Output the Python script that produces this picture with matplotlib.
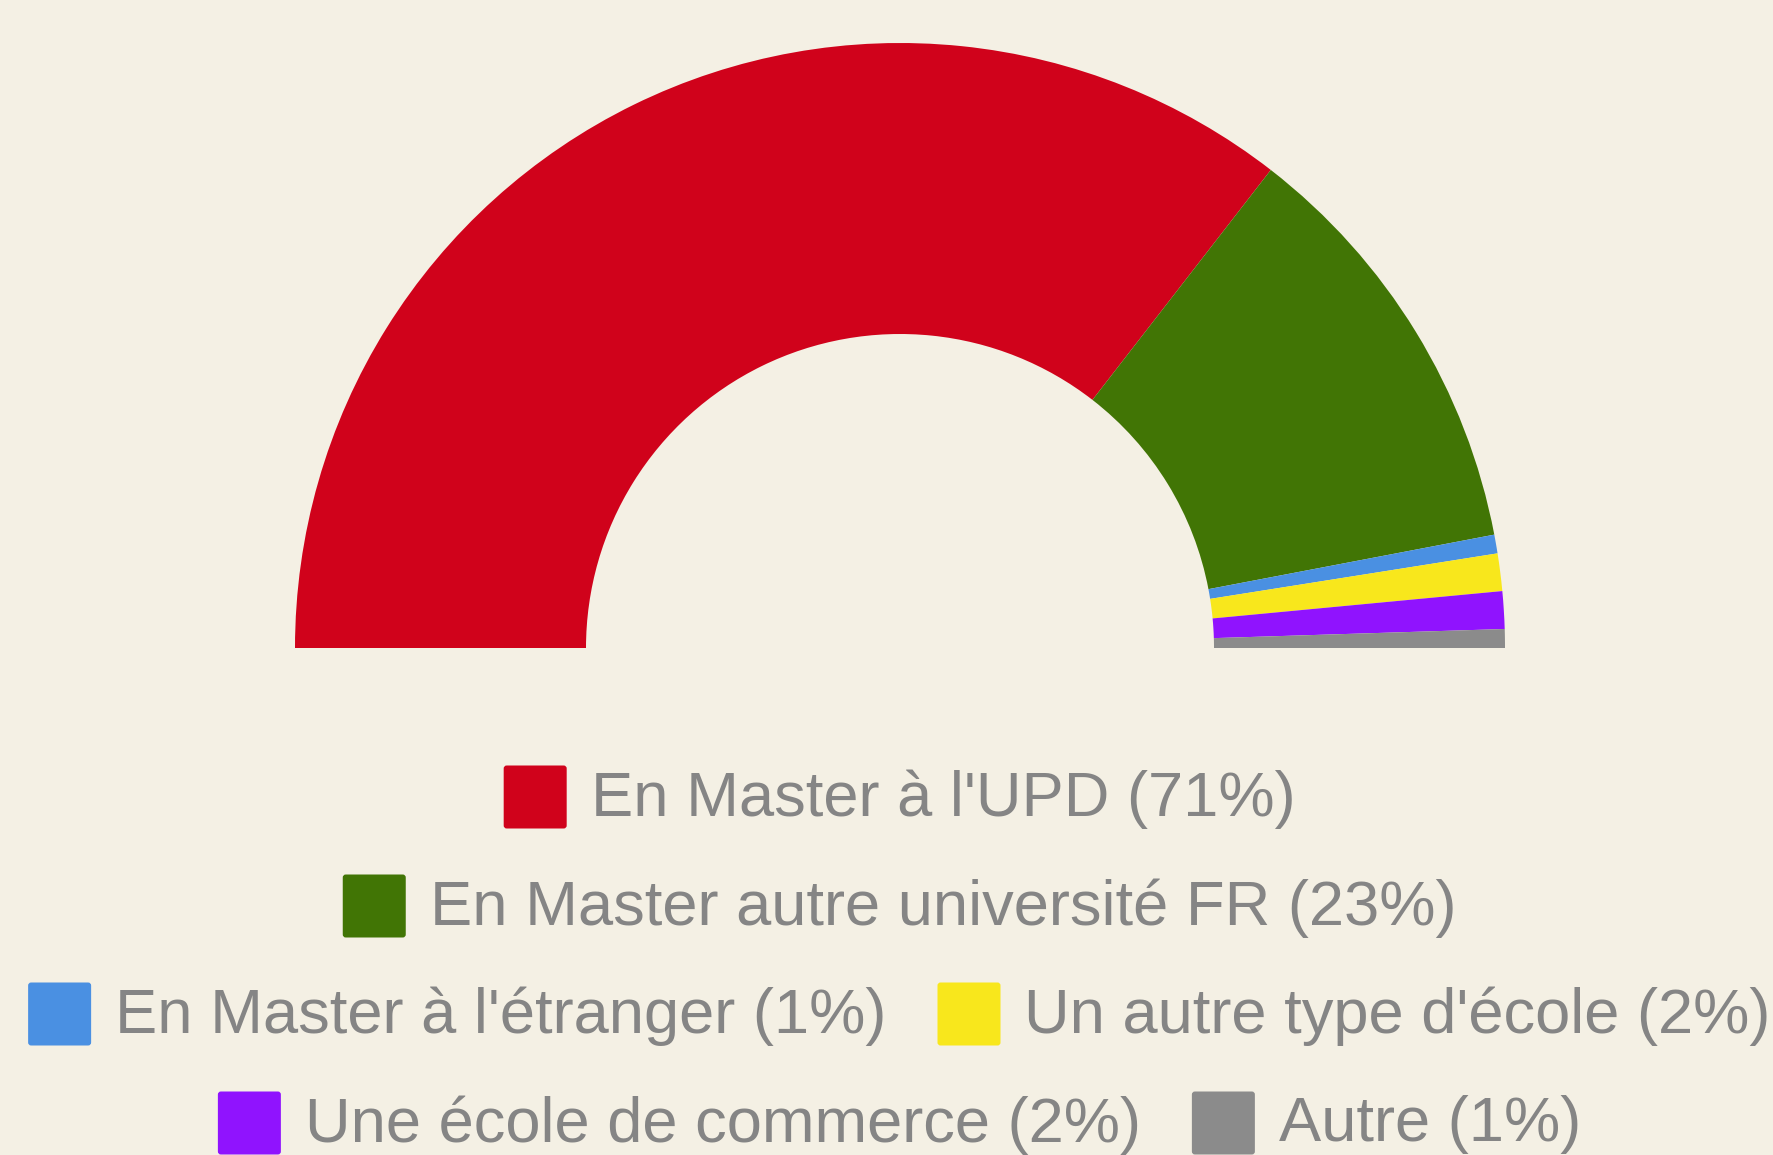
import matplotlib
matplotlib.use('Agg')
import matplotlib.pyplot as plt
from matplotlib.patches import FancyBboxPatch

labels = ["En Master à l'UPD", "En Master autre université FR", "En Master à l'étranger",
          "Un autre type d'école", "Une école de commerce", "Autre"]
values = [71, 23, 1, 2, 2, 1]
colors = ['#D0021B', '#417505', '#4A90E2', '#F8E71C', '#9013FE', '#8B8B8B']

W, H = 1773, 1155
bg = '#F4F0E4'
text_col = '#858585'

plt.rcParams['font.family'] = ['Liberation Sans', 'DejaVu Sans']

fig = plt.figure(figsize=(W / 100, H / 100), dpi=100, facecolor=bg)
ax = fig.add_axes([0, 0, 1, 1])
ax.set_facecolor(bg)

# half donut: fractions of a full circle sum to 0.5
total = sum(values)
fracs = [v / total / 2 for v in values]
ax.pie(fracs, normalize=False, colors=colors, startangle=180, counterclock=False,
       center=(900, H - 648), radius=605, frame=True,
       wedgeprops=dict(width=291, linewidth=0))
ax.set_xlim(0, W)
ax.set_ylim(0, H)
ax.set_aspect('equal')
ax.axis('off')

# legend, laid out in centred rows
fs = 45.5
sq = 63
gap_txt = 24
gap_item = 51
row_y = [H - 797, H - 906, H - 1014, H - 1123]
x_shift = 13

renderer = fig.canvas.get_renderer()
items = []
for lab, v, c in zip(labels, values, colors):
    t = ax.text(0, 0, f"{lab} ({v}%)", fontsize=fs, color=text_col, va='center', ha='left')
    w = t.get_window_extent(renderer).width
    items.append((t, w, c))

rows, cur, cur_w = [], [], 0
for it in items:
    iw = sq + gap_txt + it[1]
    add = iw if not cur else gap_item + iw
    if cur and cur_w + add > W:
        rows.append((cur, cur_w))
        cur, cur_w = [it], iw
    else:
        cur.append(it)
        cur_w += add
rows.append((cur, cur_w))

for (row, rw), y in zip(rows, row_y):
    x = (W - rw) / 2 + x_shift
    for t, w, c in row:
        ax.add_patch(FancyBboxPatch((x + 3, y - sq / 2 + 3), sq - 6, sq - 6,
                                    boxstyle='round,pad=3', facecolor=c, edgecolor='none'))
        t.set_position((x + sq + gap_txt, y - 2))
        x += sq + gap_txt + w + gap_item

fig.savefig('out.png', dpi=100, facecolor=bg)
